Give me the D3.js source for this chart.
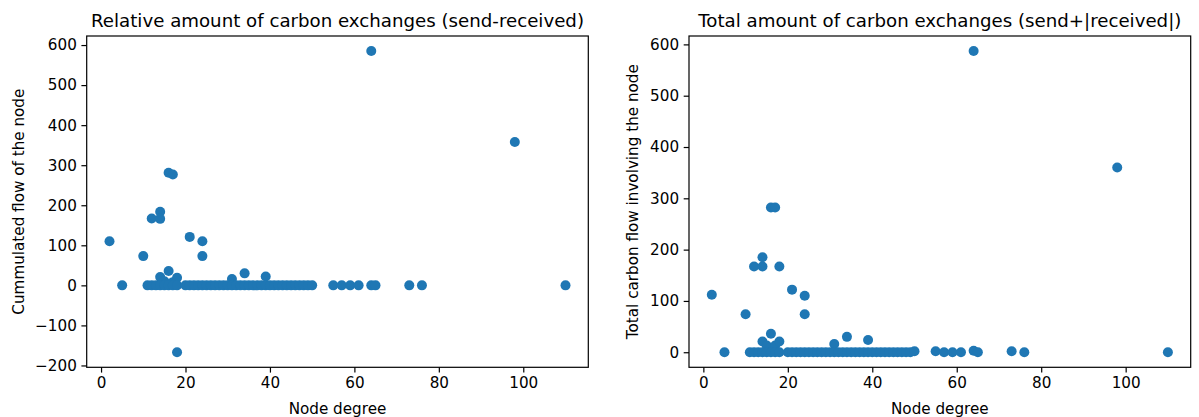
<!DOCTYPE html>
<html>
<head>
<meta charset="utf-8">
<script src="https://cdn.jsdelivr.net/npm/d3@7"></script>
<style>
  html, body { margin: 0; padding: 0; background: #fff; }
  svg { display: block; }
  text { font-family: "DejaVu Sans", sans-serif; fill: #000; }
</style>
</head>
<body>
<svg id="chart" width="1199" height="417"></svg>
<script>
// ---- data ----
const nodeDegree = [
  2, 5, 10, 12, 14, 14, 16, 17, 18, 21, 24, 24, 64, 98, 110,
  14, 15, 16, 17, 18, 31, 34, 39,
  11, 12, 13, 14, 15, 16, 17, 18,
  20, 21, 22, 23, 24, 25, 26, 27, 28, 29, 30, 31, 32, 33, 34, 35,
  36, 37, 38, 39, 40, 41, 42, 43, 44, 45, 46, 47, 48, 49, 50,
  55, 57, 59, 61, 64, 65, 73, 76
];
const relativeFlow = [
  110, 0, 73, 167, 184, 166, 281, 277, -167, 121, 110, 73, 585, 358, 0,
  21, 10, 36, 8, 19, 16, 30, 22,
  0, 0, 0, 0, 0, 0, 0, 0,
  0, 0, 0, 0, 0, 0, 0, 0, 0, 0, 0, 0, 0, 0, 0, 0,
  0, 0, 0, 0, 0, 0, 0, 0, 0, 0, 0, 0, 0, 0, 0,
  0, 0, 0, 0, 0, 0, 0, 0
];
const totalFlow = [
  112, 0, 74, 167, 185, 167, 282, 282, 167, 122, 110, 74, 587, 360, 0,
  21, 13, 36, 13, 21, 16, 30, 24,
  0, 0, 0, 0, 0, 0, 0, 0,
  0, 0, 0, 0, 0, 0, 0, 0, 0, 0, 0, 0, 0, 0, 0, 0,
  0, 0, 0, 0, 0, 0, 0, 0, 0, 0, 0, 0, 0, 0, 2,
  2, 0, 0, 0, 3, 0, 2, 0
];
const xTicks = [0, 20, 40, 60, 80, 100];
const yTicksLeft = [-200, -100, 0, 100, 200, 300, 400, 500, 600];
const yTicksRight = [0, 100, 200, 300, 400, 500, 600];
const titles = ["Relative amount of carbon exchanges (send-received)",
                "Total amount of carbon exchanges (send+|received|)"];
const yLabels = ["Cummulated flow of the node", "Total carbon flow involving the node"];
const xLabel = "Node degree";

// ---- drawing ----
const svg = d3.select("#chart");
const color = "#1f77b4";
const plotTop = 36, plotBottom = 367.3;
const tickFont = "15.2px", titleFont = "18.2px";

function padded(ext) {
  const m = (ext[1] - ext[0]) * 0.05;
  return [ext[0] - m, ext[1] + m];
}

function panel(left, right, yVals, yTicks, title, yLabel, yLabelX) {
  const x = d3.scaleLinear().domain(padded(d3.extent(nodeDegree))).range([left, right]);
  const y = d3.scaleLinear().domain(padded(d3.extent(yVals))).range([plotBottom, plotTop]);
  const g = svg.append("g");

  g.append("g").selectAll("circle")
    .data(nodeDegree.map((d, i) => [d, yVals[i]]))
    .join("circle")
    .attr("cx", d => x(d[0]))
    .attr("cy", d => y(d[1]))
    .attr("r", 5.0)
    .attr("fill", color);

  const xAxis = d3.axisBottom(x).tickValues(xTicks).tickSize(5.3).tickPadding(4.6).tickFormat(d3.format("d"));
  const yAxis = d3.axisLeft(y).tickValues(yTicks).tickSize(5.3).tickPadding(4.6).tickFormat(d3.format("d"));
  const gx = g.append("g").attr("transform", `translate(0,${plotBottom})`).call(xAxis);
  const gy = g.append("g").attr("transform", `translate(${left},0)`).call(yAxis);
  [gx, gy].forEach(a => {
    a.select(".domain").remove();
    a.selectAll("line").attr("stroke", "#000").attr("stroke-width", 1.2);
    a.selectAll("text").style("font-size", tickFont).style("font-family", "DejaVu Sans").attr("fill", "#222");
  });

  g.append("rect")
    .attr("x", left).attr("y", plotTop)
    .attr("width", right - left).attr("height", plotBottom - plotTop)
    .attr("fill", "none").attr("stroke", "#000").attr("stroke-width", 1.2);

  g.append("text")
    .attr("x", (left + right) / 2).attr("y", plotTop - 9)
    .attr("text-anchor", "middle")
    .style("font-size", titleFont)
    .attr("fill", "#222")
    .text(title);

  g.append("text")
    .attr("x", (left + right) / 2).attr("y", 413.5)
    .attr("text-anchor", "middle")
    .style("font-size", tickFont)
    .attr("fill", "#222")
    .text(xLabel);

  g.append("text")
    .attr("transform", `translate(${yLabelX},${(plotTop + plotBottom) / 2}) rotate(-90)`)
    .attr("text-anchor", "middle")
    .style("font-size", tickFont)
    .attr("fill", "#222")
    .text(yLabel);
}

panel(86.7, 588.3, relativeFlow, yTicksLeft, titles[0], yLabels[0], 23.5);
panel(689, 1190.7, totalFlow, yTicksRight, titles[1], yLabels[1], 638);
</script>
</body>
</html>
